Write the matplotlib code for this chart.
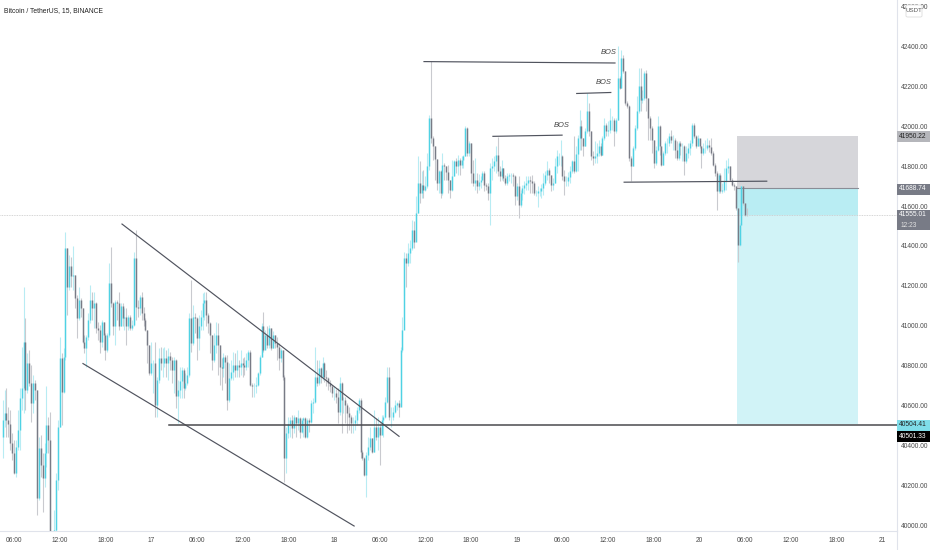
import matplotlib
matplotlib.use('Agg')
import matplotlib.pyplot as plt
from matplotlib.patches import FancyBboxPatch

plt.rcParams['font.family'] = ['Liberation Sans', 'DejaVu Sans']

# 15 min candles, BTC/USDT
first_open = 40444
closes = [
    40527,40561,40527,40507,40410,40360,40260,40393,40477,40636,40686,40920,40678,40812,40711,40611,40711,40678,40134,40385,
    40301,40234,40360,40502,40427,39925,39917,39975,40226,40494,40837,40669,40845,41389,41196,41297,41247,41255,41138,41037,
    41129,41088,40920,40887,40945,41029,41129,41088,41113,40987,40979,40920,41021,40954,40879,40954,41213,41113,40999,41121,
    41113,40996,41099,41037,41046,40996,41042,40987,41004,41339,41096,41088,41146,41063,41029,40979,40904,40761,40812,40815,
    40602,40728,40837,40812,40815,40837,40812,40848,40828,40778,40828,40648,40678,40725,40778,40689,40711,40753,41037,40912,
    41046,41037,40937,40996,41046,
    41113,41129,41054,41012,40954,40828,40904,40954,40904,40795,40787,40845,40820,40628,40736,40770,40803,40778,40803,40795,
    40812,40803,40795,40828,40870,40703,40695,40698,40703,40761,40845,40996,40879,40954,40904,40987,40887,40954,
    40912,40895,40837,40879,40745,40335,40460,40507,40527,40485,40544,40510,40536,40469,40527,40536,40444,40527,40519,
    40611,40619,40745,40711,40787,40745,40812,40745,40736,40711,40695,40661,40661,40640,40569,40711,40628,40628,40602,40561,40544,
    40510,40510,40527,40577,40628,40368,40335,40251,40351,40393,40435,40368,40494,40444,40494,40452,40527,40544,40619,40745,40544,40544,
    40569,40602,40611,40594,40879,40979,41339,41313,41364,41389,41481,41422,
    41565,41716,41665,41707,41682,41699,41799,42042,41941,
    41900,41836,41716,41774,41665,41808,41799,41770,41732,41682,41749,41824,41799,41833,41808,41830,41849,41992,41866,41916,41766,41716,
    41732,41699,41720,41732,41766,41707,41699,41665,41791,41799,41824,41858,41774,41749,41791,41741,41716,41749,41757,41757,41749,
    41649,41699,41607,41665,41690,41705,41716,41732,41724,41716,41665,41665,41674,41674,41690,41716,41757,41782,41757,41707,41716,41799,
    41849,41849,41849,41749,41724,41724,41745,41774,41824,41774,41860,41941,42000,41941,41900,41975,42075,41975,41849,41841,41849,41866,
    41900,41858,41941,42008,41975,41983,42034,42034,41975,42034,42243,42192,42343,42276,42117,42100,41841,41799,41891,41992,
    42075,42201,42134,42142,42268,42142,42042,41992,41933,41816,41883,42000,41900,41808,41866,41916,41916,41950,41933,41933,
    41883,41841,41916,41900,41900,41824,41866,41890,41916,42008,41950,41900,41941,41900,41866,41891,41891,41908,41895,41866,41808,41766,
    41674,41757,41674,41682,41725,41791,41799,41732,41707,41699,41590,41406,41506,41699,41615,41557,41555,
]
highs = [
    40628,40678,40686,40594,40577,40460,40427,40427,40577,40686,40895,41196,41037,40862,40879,40803,40753,40728,40678,40444,
    40452,40360,40410,40695,40544,40569,39958,40075,40260,40527,40945,40862,40887,41472,41389,41355,41347,41400,41255,41155,
    41196,41138,41088,40954,40954,41063,41205,41171,41171,41121,41021,41004,41029,41021,40962,40962,41313,41397,41121,41129,
    41129,41171,41113,41113,41088,41088,41054,41054,41029,41372,41481,41129,41155,41171,41096,41037,40979,40904,40920,40828,
    40920,40745,40887,40895,40887,40895,40879,40887,40870,40845,40845,40832,40728,40795,40795,40787,40761,40795,41063,41230,
    41104,41063,41046,41054,41079,
    41163,41171,41171,41063,41021,40954,40962,41021,41012,40904,40837,40862,40854,40854,40812,40828,40870,40862,40879,40828,
    40879,40837,40845,40862,40879,40879,40711,40711,40745,40770,40854,41012,41071,40979,40996,41004,40987,40971,
    40954,40945,40912,40887,40879,40753,40494,40544,40544,40552,40552,40544,40577,40544,40536,40544,40544,40536,40536,
    40628,40636,40895,40828,40828,40795,40845,40820,40778,40745,40728,40703,40695,40680,40686,40745,40720,40644,40644,40611,40594,
    40552,40544,40552,40594,40636,40636,40377,40343,40368,40444,40494,40435,40577,40536,40544,40510,40552,40552,40644,40795,40795,40594,
    40594,40628,40619,40628,40895,41046,41372,41364,41414,41431,41531,41523,
    41649,41849,41824,41774,41782,41749,41866,42059,42326,
    41950,41900,41836,41782,41782,41866,41816,41800,41808,41732,41833,41833,41841,41858,41841,41850,41858,42000,41997,41925,41916,41833,
    41841,41766,41760,41749,41774,41774,41716,41716,41816,41841,41849,41900,41946,41799,41833,41791,41757,41766,41766,41766,41766,
    41757,41716,41749,41682,41707,41725,41749,41749,41749,41757,41724,41682,41699,41690,41710,41766,41774,41824,41791,41757,41741,41841,
    41883,41866,41933,41858,41782,41749,41770,41799,41833,41950,41900,41958,42084,42034,41941,41992,42167,42117,41975,41875,41925,41916,
    41933,41916,41950,42042,42017,42025,42092,42050,42042,42042,42402,42251,42385,42360,42276,42126,42109,41849,41900,42008,
    42151,42293,42293,42184,42276,42284,42142,42050,42000,41933,41900,42050,42008,41900,41875,41925,41941,41967,41983,41958,
    41941,41925,41925,41925,41916,41908,41900,41915,41933,42017,42017,41958,41958,41933,41900,41916,41933,41941,41930,41941,41875,41816,
    41774,41766,41766,41716,41790,41833,41841,41799,41741,41716,41699,41590,41515,41707,41690,41615,41590,
]
lows = [
    40335,40494,40444,40444,40377,40326,40256,40243,40377,40377,40577,40561,40577,40661,40695,40519,40561,40628,40050,40126,
    40243,40067,40193,40293,40360,39900,39875,39908,39967,40176,40494,40502,40661,40828,41054,41180,41196,41180,41088,40937,
    41029,41046,40915,40862,40795,40929,41012,41029,40987,40962,40929,40862,40895,40879,40828,40870,40945,41096,40954,40904,
    41029,40979,40996,40996,40979,40904,40979,40979,40979,40996,41029,41046,41054,41029,40996,40971,40812,40753,40753,40661,
    40544,40544,40711,40778,40745,40795,40745,40728,40778,40711,40661,40586,40510,40636,40636,40636,40678,40703,40745,40870,
    40904,40962,40828,40879,40979,
    40979,41029,40996,40962,40862,40778,40820,40862,40753,40703,40678,40745,40711,40577,40619,40728,40728,40745,40745,40745,
    40753,40745,40753,40778,40795,40695,40644,40644,40661,40695,40753,40845,40870,40887,40887,40887,40879,40887,
    40887,40828,40778,40820,40728,40218,40260,40435,40444,40435,40460,40444,40477,40435,40460,40444,40435,40435,40469,
    40510,40561,40611,40695,40703,40711,40728,40720,40695,40678,40669,40644,40628,40610,40510,40552,40460,40561,40510,40460,40477,
    40460,40460,40477,40502,40561,40335,40326,40246,40142,40326,40377,40360,40368,40427,40377,40301,40460,40444,40536,40611,40527,40494,
    40527,40561,40577,40544,40602,40870,41155,41196,41297,41313,41380,41389,
    41431,41565,41615,41640,41640,41674,41690,41782,41916,
    41833,41732,41682,41665,41640,41657,41732,41730,41665,41640,41674,41749,41766,41757,41757,41790,41791,41849,41849,41849,41716,41699,
    41682,41665,41680,41690,41732,41674,41682,41632,41506,41732,41774,41766,41749,41724,41732,41724,41707,41707,41724,41716,41699,
    41607,41632,41540,41598,41632,41660,41682,41682,41665,41665,41657,41649,41598,41649,41640,41657,41707,41732,41716,41674,41682,41716,
    41766,41808,41799,41732,41657,41699,41700,41716,41766,41766,41770,41774,41883,41883,41849,41900,41967,41950,41833,41808,41816,41816,
    41849,41849,41858,41933,41950,41950,41967,41983,41900,41967,42034,42185,42192,42268,42109,42092,41824,41724,41799,41883,
    41983,42067,42075,42117,42134,42075,41933,41933,41866,41791,41808,41875,41858,41799,41808,41858,41866,41900,41916,41883,
    41841,41833,41833,41858,41824,41757,41816,41840,41858,41900,41941,41891,41900,41891,41791,41858,41866,41883,41870,41858,41799,41749,
    41582,41665,41665,41665,41670,41682,41766,41724,41699,41682,41582,41322,41398,41506,41607,41548,41548,
]

# times on the axis, candle number / label
tick_pos = [6,30,54,78,102,126,150,174,198,222,246,270,294,318,342,366,390,414,438,462]
tick_labels = ['06:00','12:00','18:00','17','06:00','12:00','18:00','18','06:00','12:00','18:00','19',
               '06:00','12:00','18:00','20','06:00','12:00','18:00','21']
price_ticks = [40000,40200,40400,40600,40800,41000,41200,41400,41600,41800,42000,42200,42400,42600]

last_price = 41555.01
entry_price = 41688.74
stop_price = 41950.22
target_price = 40504.41
bid_price = 40501.33
box_start, box_end = 385.5, 449.4

# hand drawn lines on the chart: (candle, price) pairs
wedge_top = ([62.7,208.2], [41510,40445])
wedge_bottom = ([42.2,184.6], [40810,39995])
flat_support = ([87.4,470], [40502,40502])
high_line = ([221.3,321.6], [42325,42318])
bos_line1 = ([257.5,293.8], [41950,41956])
bos_line2 = ([301.5,319.4], [42165,42170])
low_line = ([326.4,401.3], [41720,41725])
bos_labels = [(293.5,42005),(315.5,42220),(318.5,42370)]


def px(x):
    return x/932


def py(y):
    return 1-y/550


def main():
    fig = plt.figure(figsize=(9.32,5.5),dpi=100)
    ax = fig.add_axes([0,py(531),px(897),1-py(531)])
    ax.set_xlim(-1.37,469.7)
    ax.set_ylim(39970,42634)

    opens = [first_open]+closes[:-1]
    xs = list(range(len(closes)))
    up = [c >= o for o,c in zip(opens,closes)]
    wick_col = ['#b8ecf3' if u else '#c9cacf' for u in up]
    body_col = ['#4fd2e4' if u else '#787b86' for u in up]

    ax.fill_between([box_start,box_end],entry_price,stop_price,color='#d6d6da',lw=0,zorder=1)
    ax.fill_between([box_start,box_end],last_price,entry_price,color='#b9edf3',lw=0,zorder=1)
    ax.fill_between([box_start,box_end],target_price,last_price,color='#d1f3f7',lw=0,zorder=1)
    ax.plot([box_start,box_end],[entry_price,entry_price],color='#8a8d96',lw=0.8,zorder=2)

    ax.axhline(last_price,color='#c8c8c8',lw=0.6,ls=(0,(1,1)),zorder=2)

    ax.vlines(xs,lows,highs,colors=wick_col,lw=0.8,zorder=3)
    ax.vlines(xs,opens,closes,colors=body_col,lw=1.05,zorder=4)

    for line in [wedge_top,wedge_bottom,high_line,bos_line1,bos_line2,low_line]:
        ax.plot(line[0],line[1],color='#50535e',lw=0.85,zorder=5)
    ax.plot(flat_support[0],flat_support[1],color='#4a4a4e',lw=1.1,zorder=5)

    for x,y in bos_labels:
        ax.text(x,y,'BOS',fontsize=5.4,style='italic',color='#444444',ha='center',va='center',zorder=6)

    ax.yaxis.tick_right()
    ax.set_yticks(price_ticks)
    ax.set_yticklabels(['%.2f' % p for p in price_ticks])
    ax.set_xticks(tick_pos)
    ax.set_xticklabels(tick_labels)
    ax.tick_params(axis='both',length=0,labelsize=4.8,labelcolor='#4a4a4a')
    ax.tick_params(axis='y',pad=3)
    ax.tick_params(axis='x',pad=4.5)
    for s in ['top','left']:
        ax.spines[s].set_visible(False)
    for s in ['right','bottom']:
        ax.spines[s].set_color('#e0e3eb')
        ax.spines[s].set_linewidth(0.8)
    fig.add_artist(plt.Line2D([px(897),px(897)],[0,py(531)],color='#e0e3eb',lw=0.8))

    fig.text(px(4),py(11),'Bitcoin / TetherUS, 15, BINANCE',fontsize=4.9,color='#222222',va='center')

    # price tags on the right axis
    tags = [(py(137),stop_price,'#b5b6bb','#222222'),(py(189),entry_price,'#787b86','white'),
            (py(425),target_price,'#7fdde9','#222222'),(py(436),bid_price,'black','white')]
    for yf,price,bg,fg in tags:
        fig.patches.append(plt.Rectangle((px(896.5),yf-5.5/550),33/932,11/550,color=bg,lw=0,transform=fig.transFigure))
        fig.text(px(913),yf,'%.2f' % price,fontsize=4.8,color=fg,ha='center',va='center',zorder=5)
    fig.patches.append(plt.Rectangle((px(896.5),py(230)),33/932,20/550,color='#787b86',lw=0,transform=fig.transFigure))
    fig.text(px(913),py(215),'%.2f' % last_price,fontsize=4.8,color='white',ha='center',va='center',zorder=5)
    fig.text(px(901),py(225),'12:23',fontsize=4.8,color='#e0e0e0',va='center',zorder=5)

    fig.patches.append(FancyBboxPatch((px(906),py(17)),16/932,12/550,boxstyle='round,pad=0,rounding_size=0.002',
                                      fc='white',ec='#dddddd',lw=0.6,transform=fig.transFigure))
    fig.text(px(914),py(11),'USDT',fontsize=4.4,color='#555555',ha='center',va='center',zorder=5)

    fig.savefig('out.png',dpi=100)


main()
